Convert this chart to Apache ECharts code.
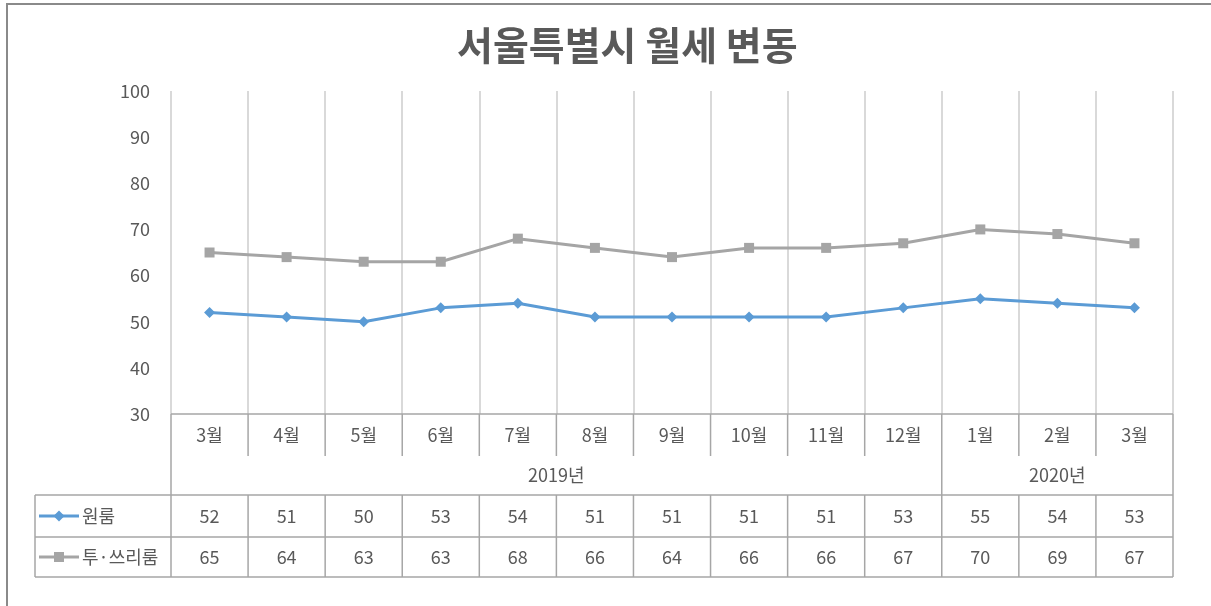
<!DOCTYPE html>
<html><head><meta charset="utf-8">
<script src="https://cdn.jsdelivr.net/npm/echarts@6/dist/echarts.min.js"></script>
<style>html,body{margin:0;padding:0;background:#fff}#c{width:1211px;height:606px}</style>
</head><body><div id="c"></div>
<script>
const months = ['3월','4월','5월','6월','7월','8월','9월','10월','11월','12월','1월','2월','3월'];
const years = [{name:'2019년', start:0, count:10},{name:'2020년', start:10, count:3}];
const oneRoom = [52,51,50,53,54,51,51,51,51,53,55,54,53];
const twoThree = [65,64,63,63,68,66,64,66,66,67,70,69,67];
const seriesNames = ['원룸','투·쓰리룸'];
const yTicks = {min:30, max:100, interval:10};

const FONT = '"Noto Sans CJK KR","Noto Sans",sans-serif';
const TXT = '#595959';
const LINE = '#a6a6a6';
const colors = ['#5b9bd5','#a5a5a5'];
const symbols = ['diamond','rect'];
const symbolSizes = [11,10];

const chart = echarts.init(document.getElementById('c'));
chart.setOption({
  animation:false,
  title:{text:'서울특별시 월세 변동', left:452, top:21,
    textStyle:{fontFamily:FONT, fontSize:39, fontWeight:'bold', color:TXT}},
  grid:{left:171, right:38, top:91, bottom:192, containLabel:false},
  xAxis:{type:'category', data:months, boundaryGap:true,
    axisLine:{show:false}, axisTick:{show:false}, axisLabel:{show:false},
    splitLine:{show:true, interval:0, lineStyle:{color:'#d9d9d9', width:2}}},
  yAxis:{type:'value', min:yTicks.min, max:yTicks.max, interval:yTicks.interval,
    axisLine:{show:false}, axisTick:{show:false}, splitLine:{show:false},
    axisLabel:{fontFamily:FONT, fontSize:18, color:TXT, margin:21}},
  series:[oneRoom, twoThree].map((d,i)=>({
    name:seriesNames[i], type:'line', data:d, symbol:symbols[i], symbolSize:symbolSizes[i],
    showSymbol:true, lineStyle:{color:colors[i], width:3}, itemStyle:{color:colors[i]}
  }))
});

// build data table from axis scale
const c0 = chart.convertToPixel({xAxisIndex:0}, 0);
const c1 = chart.convertToPixel({xAxisIndex:0}, 1);
const band = c1 - c0;
const x0 = c0 - band/2;
const n = months.length;
const xEnd = x0 + band*n;
const yTop = chart.convertToPixel({yAxisIndex:0}, yTicks.min);
const rowH = [42,39,42,40];
const rowY = [yTop]; rowH.forEach((h,i)=>rowY.push(rowY[i]+h));
const legendLeft = 35;
const g = [];
function line(x1,y1,x2,y2,color,w){g.push({type:'line',shape:{x1,y1,x2,y2},style:{stroke:color||LINE,lineWidth:w||1.5},silent:true});}
function text(x,y,t,align){g.push({type:'text',x,y,style:{text:t,fontFamily:FONT,fontSize:18,fill:TXT,align:align||'center',verticalAlign:'middle'},silent:true});}
const bx = k => x0 + k*band;
// outer frame of picture
g.push({type:'rect',shape:{x:7,y:4,width:1300,height:700},style:{fill:null,stroke:'#8a8a8a',lineWidth:2},silent:true});
// horizontal lines
line(bx(0), rowY[0], xEnd, rowY[0]);
line(legendLeft, rowY[2], xEnd, rowY[2]);
line(legendLeft, rowY[3], xEnd, rowY[3]);
line(legendLeft, rowY[4], xEnd, rowY[4]);
// vertical lines
line(bx(0), rowY[0], bx(0), rowY[4]);
line(xEnd, rowY[0], xEnd, rowY[4]);
line(legendLeft, rowY[2], legendLeft, rowY[4]);
for(let k=1;k<n;k++){
  line(bx(k), rowY[0], bx(k), rowY[1]);
  line(bx(k), rowY[2], bx(k), rowY[4]);
}
years.forEach((yr,i)=>{ if(i>0) line(bx(yr.start), rowY[1], bx(yr.start), rowY[2]); });
// texts
months.forEach((m,i)=>text(bx(i)+band/2, (rowY[0]+rowY[1])/2, m));
years.forEach(yr=>text(bx(yr.start)+band*yr.count/2, (rowY[1]+rowY[2])/2, yr.name));
[oneRoom,twoThree].forEach((d,r)=>{
  const cy = (rowY[2+r]+rowY[3+r])/2;
  d.forEach((v,i)=>text(bx(i)+band/2, cy, String(v)));
  // legend key
  line(legendLeft+4, cy, legendLeft+44, cy, colors[r], 3);
  const mx = legendLeft+24;
  const pts = r===0 ? [[mx,cy-5.5],[mx+5.5,cy],[mx,cy+5.5],[mx-5.5,cy]]
                    : [[mx-5,cy-5],[mx+5,cy-5],[mx+5,cy+5],[mx-5,cy+5]];
  g.push({type:'polygon',shape:{points:pts},style:{fill:colors[r]},silent:true});
  text(legendLeft+47, cy, seriesNames[r], 'left');
});
chart.setOption({graphic:{elements:g}});
</script></body></html>
